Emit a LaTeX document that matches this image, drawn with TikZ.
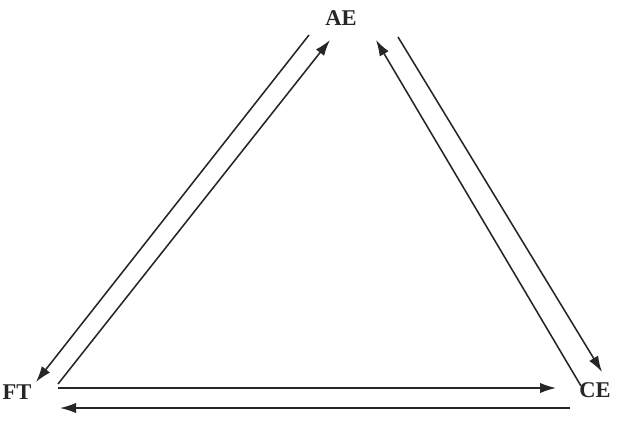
\documentclass[tikz,border=0pt]{standalone}
\usepackage{fontspec}
\setmainfont{Liberation Serif}
\usetikzlibrary{arrows.meta,calc}
\colorlet{ink}{black!85}
\tikzset{
  arrow/.style={-{Latex[length=4mm,width=2.6mm]}, draw=ink, line width=1.1pt},
  vertex/.style={inner sep=0pt, font=\fontsize{16}{19}\selectfont\bfseries, text=ink}
}

\begin{document}
\begin{tikzpicture}[x=0.025cm,y=-0.025cm]
  \useasboundingbox (0,0) rectangle (617,422);

  \node[vertex] (AE) at (341,18) {AE};
  \node[vertex] (FT) at (17,392) {FT};
  \node[vertex] (CE) at (595,390) {CE};

  % left side
  \draw[arrow] ($(AE)+(-32,17)$) -- ($(FT)+(19,-10)$);
  \draw[arrow] ($(FT)+(41,-8)$) -- ($(AE)+(-11,22)$);
  % right side
  \draw[arrow] ($(CE)+(-14,-4)$) -- ($(AE)+(35,22)$);
  \draw[arrow] ($(AE)+(57,19)$) -- ($(CE)+(7,-18)$);
  % bottom
  \draw[arrow] ($(FT)+(41,-4)$) -- ($(CE)+(-39,-2)$);
  \draw[arrow] ($(CE)+(-25,18)$) -- ($(FT)+(43,16)$);
\end{tikzpicture}
\end{document}
